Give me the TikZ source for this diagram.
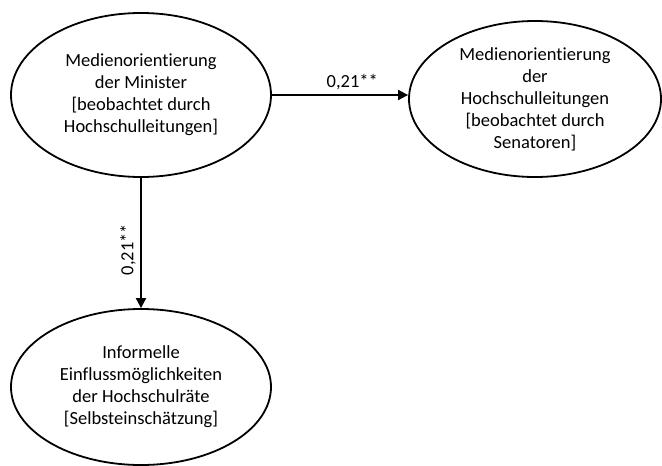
\documentclass[tikz,border=0pt]{standalone}
\usepackage{fontspec}
\setmainfont[Ligatures=NoCommon]{Carlito}
\usepackage{xcolor}
\usepackage{tikz}
\usetikzlibrary{shapes.geometric,arrows.meta}

\begin{document}
\begin{tikzpicture}[x=1pt,y=-1pt]
        \tikzstyle{every node}+=[font=\fontsize{18.5}{22}\selectfont]
        \tikzstyle{konstrukt}=[draw=black,ellipse,line width=1.8pt,inner sep=0pt,align=center]
        \tikzstyle{pfad}=[draw=black,line width=1.8pt,-{Triangle[length=10pt,width=10pt]}]
        \useasboundingbox (0,0) rectangle (662,466);
        \node [konstrukt,minimum width=260pt,minimum height=164pt] (minister) at (141,95)
            {Medienorientierung\\der Minister\\{[}beobachtet durch\\Hochschulleitungen]};
        \node [konstrukt,minimum width=252pt,minimum height=156pt] (leitung) at (535,99)
            {Medienorientierung\\der\\Hochschulleitungen\\{[}beobachtet durch\\Senatoren]};
        \node [konstrukt,minimum width=260pt,minimum height=156pt] (rat) at (141,387)
            {Informelle\\Einflussmöglichkeiten\\der Hochschulräte\\{[}Selbsteinschätzung]};
        \draw [pfad] (minister.east) -- (minister.east -| leitung.west)
            node [pos=0.59,above=1pt] {0,21**};
        \draw [pfad] (minister.south) -- (rat.north)
            node [pos=0.55,left=1pt,rotate=90,anchor=south] {0,21**};
\end{tikzpicture}
\end{document}
